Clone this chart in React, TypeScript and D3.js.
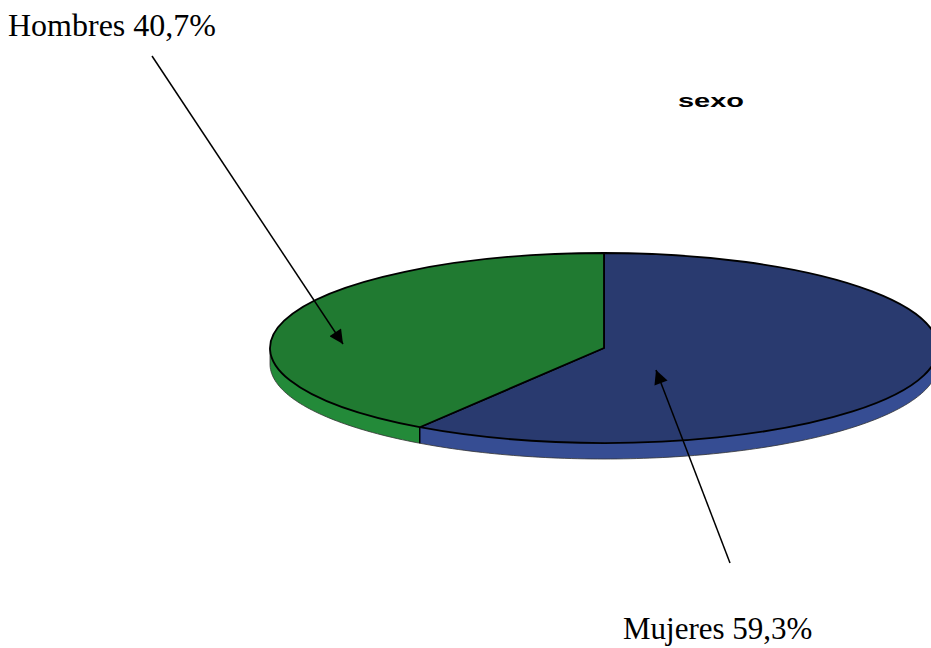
import React from "react";
import * as d3 from "d3";

const categories = ["Mujeres", "Hombres"];
const values = [59.3, 40.7];
const labels = ["Mujeres 59,3%", "Hombres 40,7%"];
const title = "sexo";

const topColors = ["#293a6f", "#207a31"];
const sideColors = ["#364d93", "#238a39"];

const W = 931;
const H = 648;
const cx = 604;
const cy = 348;
const rx = 334;
const ry = 95;
const depth = 16;

function pt(theta: number, dy = 0): [number, number] {
  return [cx + rx * Math.sin(theta), cy - ry * Math.cos(theta) + dy];
}

export default function App() {
  const pie = d3
    .pie<number>()
    .sort(null)
    .startAngle(0)
    .endAngle(2 * Math.PI)
    .value((d) => d);
  const arcs = pie(values);
  const arcGen = d3.arc<d3.PieArcDatum<number>>().innerRadius(0).outerRadius(rx);
  const line = d3.line();

  const sides = arcs.map((a, i) => {
    const s = Math.max(a.startAngle, Math.PI / 2);
    const e = Math.min(a.endAngle, (3 * Math.PI) / 2);
    if (e <= s) return null;
    const n = 80;
    const top = d3.range(n + 1).map((k) => pt(s + ((e - s) * k) / n));
    const bot = d3.range(n + 1).map((k) => pt(e - ((e - s) * k) / n, depth));
    return { i, d: line([...top, ...bot])! + "Z", s, e };
  });

  const boundaryEdges = arcs
    .map((a) => a.startAngle)
    .filter((t) => t > Math.PI / 2 && t < (3 * Math.PI) / 2);

  const bottomEdge = line(
    d3.range(161).map((k) => pt(Math.PI / 2 + (Math.PI * k) / 160, depth))
  )!;

  return (
    <svg
      width={W}
      height={H}
      style={{ position: "absolute", left: 0, top: 0 }}
      xmlns="http://www.w3.org/2000/svg"
    >
      <defs>
        <marker
          id="ah"
          viewBox="0 0 10 10"
          refX="10"
          refY="5"
          markerWidth="17"
          markerHeight="14"
          markerUnits="userSpaceOnUse"
          orient="auto"
        >
          <path d="M0,0 L10,5 L0,10 Z" fill="#000" />
        </marker>
      </defs>
      <rect width={W} height={H} fill="#fff" />
      {sides.map((s) =>
        s ? (
          <path key={s.i} d={s.d} fill={sideColors[s.i]} stroke="none" />
        ) : null
      )}
      <path d={bottomEdge} fill="none" stroke="#333" strokeWidth={0.8} />
      {boundaryEdges.map((t, k) => {
        const [x1, y1] = pt(t);
        const [x2, y2] = pt(t, depth);
        return (
          <line key={k} x1={x1} y1={y1} x2={x2} y2={y2} stroke="#000" strokeWidth={1.5} />
        );
      })}
      <line
        x1={cx - rx}
        y1={cy}
        x2={cx - rx}
        y2={cy + depth}
        stroke="#333"
        strokeWidth={0.8}
      />
      <g transform={`translate(${cx},${cy}) scale(1,${ry / rx})`}>
        {arcs.map((a, i) => (
          <path
            key={categories[i]}
            d={arcGen(a)!}
            fill={topColors[i]}
            stroke="#000"
            strokeWidth={1.8}
            vectorEffect="non-scaling-stroke"
            strokeLinejoin="round"
          />
        ))}
      </g>
      <text
        x={678}
        y={107}
        fontFamily="Liberation Sans, Arial, sans-serif"
        fontWeight="bold"
        fontSize={19}
        textLength={66}
        lengthAdjust="spacingAndGlyphs"
        fill="#000"
      >
        {title}
      </text>
      <line
        x1={152}
        y1={56}
        x2={343}
        y2={344}
        stroke="#000"
        strokeWidth={1.5}
        markerEnd="url(#ah)"
      />
      <line
        x1={730}
        y1={563}
        x2={656}
        y2={370}
        stroke="#000"
        strokeWidth={1.5}
        markerEnd="url(#ah)"
      />
      <text
        x={8}
        y={36}
        fontFamily="Liberation Serif, Times New Roman, serif"
        fontSize={32}
        fill="#000"
      >
        {labels[1]}
      </text>
      <text
        x={623}
        y={639}
        fontFamily="Liberation Serif, Times New Roman, serif"
        fontSize={31}
        fill="#000"
      >
        {labels[0]}
      </text>
    </svg>
  );
}
